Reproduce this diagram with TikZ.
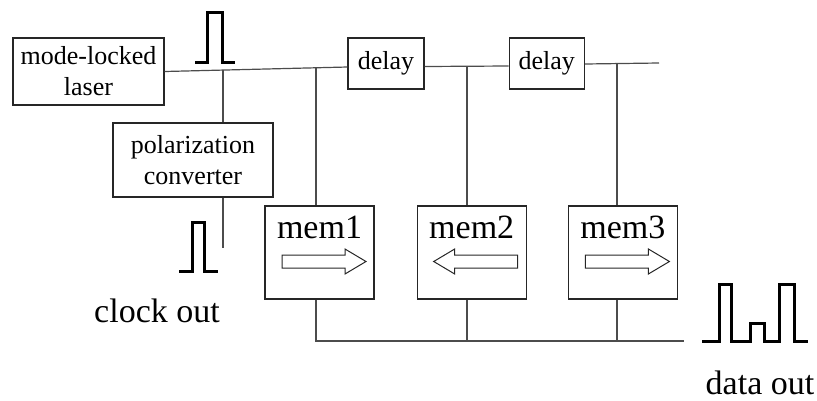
\documentclass[tikz,border=0pt]{standalone}
\usepackage{fontspec}
\setmainfont{Liberation Serif}
\usetikzlibrary{positioning}

\begin{document}
\begin{tikzpicture}[
    x=1pt, y=-1pt,
    box/.style={draw=black!85, line width=1.2pt, align=center, inner sep=0pt, font=\fontsize{26}{31}\selectfont},
    membox/.style={draw=black!85, line width=1.2pt, minimum width=109pt, inner xsep=0pt, inner ysep=9pt, text height=23pt, text depth=52pt, font=\fontsize{34}{38}\selectfont},
    wire/.style={black!70, line width=1.2pt},
    pulse/.style={line width=3pt, line join=miter},
    big/.style={font=\fontsize{34}{38}\selectfont, inner sep=0pt},
    memarrow/.pic={\draw[black!85, line width=1pt] (-42,-6.5) -- (21,-6.5) -- (21,-12.5) -- (42,0) -- (21,12.5) -- (21,6.5) -- (-42,6.5) -- cycle;},
]
\useasboundingbox (0,0) rectangle (817,400);

\node[box, minimum width=151pt, minimum height=67pt] (laser) at (88.5,71.5) {mode-locked\\laser};
\node[box, minimum width=160pt, minimum height=74pt] (pol) at (193,160) {polarization\\converter};
\node[box, minimum width=76pt, minimum height=51pt] (delay1) at (386,63.5) {delay};
\node[box, minimum width=75pt, minimum height=51pt, right=84pt of delay1] (delay2) {delay};

\node[membox] (mem1) at (319.5,252.5) {mem1};
\node[membox, right=42pt of mem1] (mem2) {mem2};
\node[membox, right=41pt of mem2] (mem3) {mem3};

\pic at ([shift={(4.5,9)}]mem1.center) {memarrow};
\pic[xscale=-1] at ([shift={(4,9)}]mem2.center) {memarrow};
\pic at ([shift={(4.5,9)}]mem3.center) {memarrow};

% taps on the main line
\coordinate (ptap) at (223,70.4);
\coordinate (t1) at (316,68);
\coordinate (t2) at (467,66.5);
\coordinate (t3) at (617,63.5);
\coordinate (lineend) at (659,63);
\coordinate (clkend) at (223,248);
\coordinate (dout) at (684,341);

\draw[wire] (laser.east) -- ([yshift=-3.5pt]delay1.west);
\draw[wire] ([yshift=-3pt]delay1.east) -- ([yshift=-2.5pt]delay2.west);
\draw[wire] ([yshift=-0.5pt]delay2.east) -- (lineend);

\draw[wire] (ptap) -- (ptap |- pol.north);
\draw[wire] (ptap |- pol.south) -- (clkend);

\draw[wire] (t1) -- (t1 |- mem1.north);
\draw[wire] (t2) -- (t2 |- mem2.north);
\draw[wire] (t3) -- (t3 |- mem3.north);

\draw[wire] (t1 |- mem1.south) |- (dout);
\draw[wire] (t2 |- mem2.south) -- (t2 |- dout);
\draw[wire] (t3 |- mem3.south) -- (t3 |- dout);

% pulses
\draw[pulse] (195,62) -- (207,62) -- (207,12) -- (222,12) -- (222,62) -- (235,62);
\draw[pulse] (179,271) -- (192,271) -- (192,222) -- (204,222) -- (204,271) -- (218,271);
\draw[pulse] (702,341) -- (719,341) -- (719,284) -- (731,284) -- (731,341) -- (750,341) -- (750,323) -- (764,323) -- (764,341) -- (779,341) -- (779,284) -- (794,284) -- (794,341) -- (808,341);

\node[big, anchor=base] (clk) at (157,322) {clock out};
\node[big, anchor=base] (dat) at (760,394) {data out};

\end{tikzpicture}
\end{document}
